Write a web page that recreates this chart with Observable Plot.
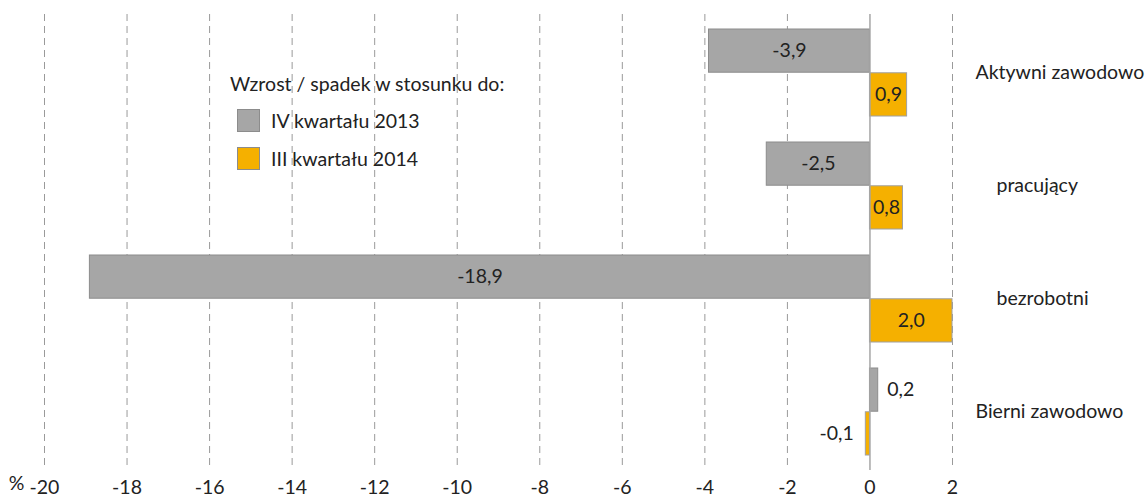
<!DOCTYPE html>
<html>
<head>
<meta charset="utf-8">
<script src="https://cdn.jsdelivr.net/npm/d3@7"></script>
<script src="https://cdn.jsdelivr.net/npm/@observablehq/plot@0.6"></script>
<style>
  html, body { margin: 0; padding: 0; background: #fff; }
  #wrap { position: relative; width: 1145px; height: 497px; font-family: Lato, sans-serif; color: #222; }
  #legend { position: absolute; left: 230px; top: 72px; font-size: 19.5px; }
  #legend .title { line-height: 24px; white-space: nowrap; }
  #legend .item { position: absolute; left: 7px; width: 300px; height: 24px; }
  #legend .sw { position: absolute; left: 0; top: 0; width: 23px; height: 23px; box-sizing: border-box; border: 1px solid #8c8c8c; }
  #legend .lab { position: absolute; left: 34px; top: 0; line-height: 24px; white-space: nowrap; }
</style>
</head>
<body>
<div id="wrap"></div>
<script>
const categories = ["Aktywni zawodowo", "pracujący", "bezrobotni", "Bierni zawodowo"];
const vs2013 = [-3.9, -2.5, -18.9, 0.2];
const vs2014 = [0.9, 0.8, 2.0, -0.1];
const seriesNames = ["IV kwartału 2013", "III kwartału 2014"];
const legendTitle = "Wzrost / spadek w stosunku do:";
const xTicks = [-20, -18, -16, -14, -12, -10, -8, -6, -4, -2, 0, 2];

const colors = ["#a6a6a6", "#f5b000"];
const strokes = ["#8c8c8c", "#a0a0a0"];

const rows = categories.map((c, i) => ({cat: c, a: vs2013[i], b: vs2014[i]}));
const fmt = v => v.toFixed(1).replace(".", ",");

const W = 1145, H = 497, mT = 14, mB = 27, mL = 44, mR = 193;
const pIn = 0.23, pOut = 0.12;
const step = (H - mT - mB) / (categories.length - pIn + 2 * pOut);
const bw = step * (1 - pIn);
const half = bw / 2;
const off = bw / 4;
const fs = 19.5;
const ink = "#222";

const inside = v => Math.abs(v) >= 0.5;

const chart = Plot.plot({
  width: W, height: H,
  marginTop: mT, marginBottom: mB, marginLeft: mL, marginRight: mR,
  style: {fontFamily: "Lato, sans-serif", fontSize: fs + "px", color: ink, background: "white", overflow: "visible"},
  x: {domain: [xTicks[0], xTicks[xTicks.length - 1]], label: null},
  y: {domain: categories, paddingInner: pIn, paddingOuter: pOut, axis: null},
  marks: [
    Plot.ruleX(xTicks.filter(d => d !== 0), {stroke: "#9a9a9a", strokeWidth: 1, strokeDasharray: "7,5"}),
    Plot.barX(rows, {x: "a", y: "cat", insetBottom: half, fill: colors[0], stroke: strokes[0], strokeWidth: 1}),
    Plot.barX(rows, {x: "b", y: "cat", insetTop: half, fill: colors[1], stroke: strokes[1], strokeWidth: 1}),
    Plot.ruleX([0], {stroke: "#a6a6a6", strokeWidth: 1.5}),
    Plot.text(rows.filter(d => inside(d.a)), {x: d => d.a / 2, y: "cat", dy: -off, text: d => fmt(d.a), fontSize: fs, fill: ink}),
    Plot.text(rows.filter(d => inside(d.b)), {x: d => d.b / 2, y: "cat", dy: off, text: d => fmt(d.b), fontSize: fs, fill: ink}),
    Plot.text(rows.filter(d => !inside(d.a) && d.a >= 0), {x: "a", y: "cat", dy: -off, dx: 9, textAnchor: "start", text: d => fmt(d.a), fontSize: fs, fill: ink}),
    Plot.text(rows.filter(d => !inside(d.a) && d.a < 0), {x: "a", y: "cat", dy: -off, dx: -9, textAnchor: "end", text: d => fmt(d.a), fontSize: fs, fill: ink}),
    Plot.text(rows.filter(d => !inside(d.b) && d.b >= 0), {x: "b", y: "cat", dy: off, dx: 9, textAnchor: "start", text: d => fmt(d.b), fontSize: fs, fill: ink}),
    Plot.text(rows.filter(d => !inside(d.b) && d.b < 0), {x: "b", y: "cat", dy: off, dx: -12, textAnchor: "end", text: d => fmt(d.b), fontSize: fs, fill: ink}),
    Plot.text(categories.filter((c, i) => i === 0 || i === 3), {y: d => d, frameAnchor: "right", dx: 23, textAnchor: "start", fontSize: fs, fill: ink}),
    Plot.text(categories.filter((c, i) => i === 1 || i === 2), {y: d => d, frameAnchor: "right", dx: 44, textAnchor: "start", fontSize: fs, fill: ink}),
    Plot.axisX(xTicks, {tickSize: 0, tickPadding: 10, tickFormat: d => String(d), fontSize: fs, fill: ink}),
    Plot.text([xTicks[0]], {x: d => d, frameAnchor: "bottom", dy: 19, dx: -20, textAnchor: "end", text: () => "%", fontSize: fs, fill: ink})
  ]
});

const wrap = document.getElementById("wrap");
wrap.appendChild(chart);

const leg = document.createElement("div");
leg.id = "legend";
const t = document.createElement("div");
t.className = "title";
t.textContent = legendTitle;
leg.appendChild(t);
seriesNames.forEach((n, i) => {
  const it = document.createElement("div");
  it.className = "item";
  it.style.top = (37 + i * 38) + "px";
  const sw = document.createElement("div");
  sw.className = "sw";
  sw.style.background = colors[i];
  sw.style.borderColor = strokes[0];
  const lab = document.createElement("div");
  lab.className = "lab";
  lab.textContent = n;
  it.appendChild(sw);
  it.appendChild(lab);
  leg.appendChild(it);
});
wrap.appendChild(leg);
</script>
</body>
</html>
